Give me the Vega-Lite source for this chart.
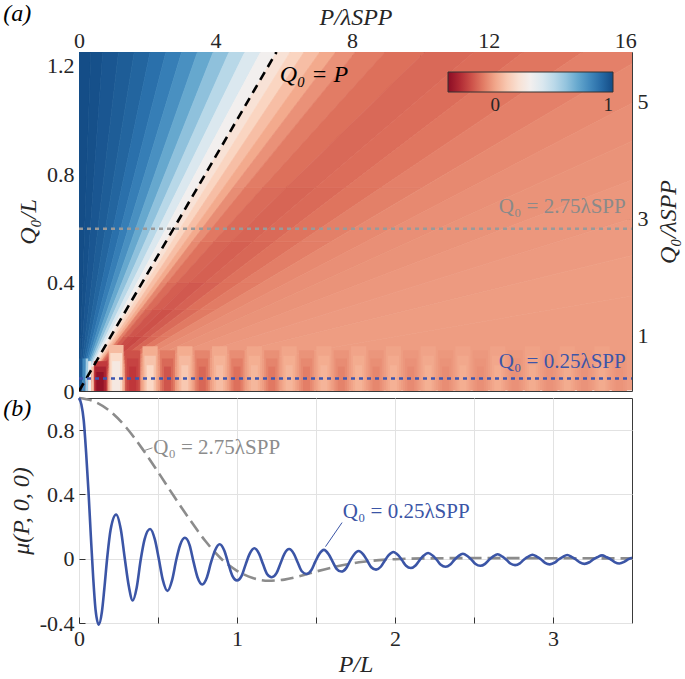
{
"$schema":"https://vega.github.io/schema/vega-lite/v6.json",
"background":"white",
"padding":{"left":2,"top":1,"right":2,"bottom":2},
"spacing":7,
"bounds":"flush",
"config":{
"view":{"stroke":"#3a3a3a","strokeWidth":1},
"font":"Liberation Serif",
"axis":{"labelFont":"Liberation Serif","labelFontSize":22,"labelColor":"#262626","titleFont":"Liberation Serif","titleFontSize":24,"titleFontWeight":"normal","titleFontStyle":"italic","titleColor":"#262626","tickColor":"#333333","domain":false,"grid":false,"tickSize":-6,"labelPadding":11,"labelFlush":false,"labelOverlap":false}
},
"resolve":{"legend":{"color":"independent"},"scale":{"color":"independent"}},
"vconcat":[
{
"width":553,"height":339,
"resolve":{"scale":{"x":"independent","y":"independent"}},
"layer":[
{"layer":[
{"data":{"values":[
{"id":"b1","q":0,"a":0,"b":0,"v":0.995},{"id":"b1","q":1.25,"a":0,"b":0.075,"v":0.995},
{"id":"b2","q":0,"a":0,"b":0,"v":0.985},{"id":"b2","q":1.25,"a":0.075,"b":0.15,"v":0.985},
{"id":"b3","q":0,"a":0,"b":0,"v":0.965},{"id":"b3","q":1.25,"a":0.15,"b":0.25,"v":0.965},
{"id":"b4","q":0,"a":0,"b":0,"v":0.945},{"id":"b4","q":1.25,"a":0.25,"b":0.35,"v":0.945},
{"id":"b5","q":0,"a":0,"b":0,"v":0.92},{"id":"b5","q":1.25,"a":0.35,"b":0.45,"v":0.92},
{"id":"b6","q":0,"a":0,"b":0,"v":0.885},{"id":"b6","q":1.25,"a":0.45,"b":0.55,"v":0.885},
{"id":"b7","q":0,"a":0,"b":0,"v":0.84},{"id":"b7","q":1.25,"a":0.55,"b":0.65,"v":0.84},
{"id":"b8","q":0,"a":0,"b":0,"v":0.78},{"id":"b8","q":1.25,"a":0.65,"b":0.75,"v":0.78},
{"id":"b9","q":0,"a":0,"b":0,"v":0.70},{"id":"b9","q":1.25,"a":0.75,"b":0.85,"v":0.70},
{"id":"b10","q":0,"a":0,"b":0,"v":0.61},{"id":"b10","q":1.25,"a":0.85,"b":0.95,"v":0.61},
{"id":"b11","q":0,"a":0,"b":0,"v":0.51},{"id":"b11","q":1.25,"a":0.95,"b":1.05,"v":0.51},
{"id":"b12","q":0,"a":0,"b":0,"v":0.40},{"id":"b12","q":1.25,"a":1.05,"b":1.15,"v":0.40},
{"id":"b13","q":0,"a":0,"b":0,"v":0.30},{"id":"b13","q":1.25,"a":1.15,"b":1.25,"v":0.30},
{"id":"b14","q":0,"a":0,"b":0,"v":0.21},{"id":"b14","q":1.25,"a":1.25,"b":1.3375,"v":0.21},
{"id":"b15","q":0,"a":0,"b":0,"v":0.14},{"id":"b15","q":1.25,"a":1.3375,"b":1.425,"v":0.14},
{"id":"b16","q":0,"a":0,"b":0,"v":0.07},{"id":"b16","q":1.25,"a":1.425,"b":1.525,"v":0.07},
{"id":"b17","q":0,"a":0,"b":0,"v":0.01},{"id":"b17","q":1.25,"a":1.525,"b":1.625,"v":0.01},
{"id":"b18A","q":0,"a":0,"b":0,"v":-0.10},{"id":"b18A","q":0.2,"a":0.26,"b":0.28,"v":-0.10},
{"id":"b18B","q":0.2,"a":0.26,"b":0.28,"v":-0.09},{"id":"b18B","q":0.3,"a":0.39,"b":0.42,"v":-0.09},
{"id":"b18C","q":0.3,"a":0.39,"b":0.42,"v":-0.08},{"id":"b18C","q":0.4,"a":0.52,"b":0.56,"v":-0.08},
{"id":"b18D","q":0.4,"a":0.52,"b":0.56,"v":-0.07},{"id":"b18D","q":0.55,"a":0.715,"b":0.77,"v":-0.07},
{"id":"b18E","q":0.55,"a":0.715,"b":0.77,"v":-0.06},{"id":"b18E","q":0.75,"a":0.975,"b":1.05,"v":-0.06},
{"id":"b18F","q":0.75,"a":0.975,"b":1.05,"v":-0.05},{"id":"b18F","q":1.25,"a":1.625,"b":1.75,"v":-0.05},
{"id":"b19A","q":0,"a":0,"b":0,"v":-0.17},{"id":"b19A","q":0.2,"a":0.28,"b":0.31,"v":-0.17},
{"id":"b19B","q":0.2,"a":0.28,"b":0.31,"v":-0.155},{"id":"b19B","q":0.3,"a":0.42,"b":0.465,"v":-0.155},
{"id":"b19C","q":0.3,"a":0.42,"b":0.465,"v":-0.14},{"id":"b19C","q":0.4,"a":0.56,"b":0.62,"v":-0.14},
{"id":"b19D","q":0.4,"a":0.56,"b":0.62,"v":-0.125},{"id":"b19D","q":0.55,"a":0.77,"b":0.8525,"v":-0.125},
{"id":"b19E","q":0.55,"a":0.77,"b":0.8525,"v":-0.11},{"id":"b19E","q":0.75,"a":1.05,"b":1.1625,"v":-0.11},
{"id":"b19F","q":0.75,"a":1.05,"b":1.1625,"v":-0.10},{"id":"b19F","q":1.25,"a":1.75,"b":1.9375,"v":-0.10},
{"id":"b20A","q":0,"a":0,"b":0,"v":-0.21},{"id":"b20A","q":0.2,"a":0.31,"b":0.35,"v":-0.21},
{"id":"b20B","q":0.2,"a":0.31,"b":0.35,"v":-0.19},{"id":"b20B","q":0.3,"a":0.465,"b":0.525,"v":-0.19},
{"id":"b20C","q":0.3,"a":0.465,"b":0.525,"v":-0.17},{"id":"b20C","q":0.4,"a":0.62,"b":0.70,"v":-0.17},
{"id":"b20D","q":0.4,"a":0.62,"b":0.70,"v":-0.155},{"id":"b20D","q":0.55,"a":0.8525,"b":0.9625,"v":-0.155},
{"id":"b20E","q":0.55,"a":0.8525,"b":0.9625,"v":-0.14},{"id":"b20E","q":0.75,"a":1.1625,"b":1.3125,"v":-0.14},
{"id":"b20F","q":0.75,"a":1.1625,"b":1.3125,"v":-0.13},{"id":"b20F","q":1.25,"a":1.9375,"b":2.1875,"v":-0.13},
{"id":"b21A","q":0,"a":0,"b":0,"v":-0.22},{"id":"b21A","q":0.2,"a":0.35,"b":0.4,"v":-0.22},
{"id":"b21B","q":0.2,"a":0.35,"b":0.4,"v":-0.20},{"id":"b21B","q":0.3,"a":0.525,"b":0.6,"v":-0.20},
{"id":"b21C","q":0.3,"a":0.525,"b":0.6,"v":-0.18},{"id":"b21C","q":0.4,"a":0.7,"b":0.8,"v":-0.18},
{"id":"b21D","q":0.4,"a":0.7,"b":0.8,"v":-0.165},{"id":"b21D","q":0.55,"a":0.9625,"b":1.1,"v":-0.165},
{"id":"b21E","q":0.55,"a":0.9625,"b":1.1,"v":-0.155},{"id":"b21E","q":0.75,"a":1.3125,"b":1.5,"v":-0.155},
{"id":"b21F","q":0.75,"a":1.3125,"b":1.5,"v":-0.145},{"id":"b21F","q":1.25,"a":2.1875,"b":2.5,"v":-0.145},
{"id":"b22A","q":0,"a":0,"b":0,"v":-0.19},{"id":"b22A","q":0.2,"a":0.4,"b":0.45,"v":-0.19},
{"id":"b22B","q":0.2,"a":0.4,"b":0.45,"v":-0.175},{"id":"b22B","q":0.3,"a":0.6,"b":0.675,"v":-0.175},
{"id":"b22C","q":0.3,"a":0.6,"b":0.675,"v":-0.16},{"id":"b22C","q":0.4,"a":0.8,"b":0.9,"v":-0.16},
{"id":"b22D","q":0.4,"a":0.8,"b":0.9,"v":-0.15},{"id":"b22D","q":0.55,"a":1.1,"b":1.2375,"v":-0.15},
{"id":"b22E","q":0.55,"a":1.1,"b":1.2375,"v":-0.142},{"id":"b22E","q":0.75,"a":1.5,"b":1.6875,"v":-0.142},
{"id":"b22F","q":0.75,"a":1.5,"b":1.6875,"v":-0.135},{"id":"b22F","q":1.25,"a":2.5,"b":2.8125,"v":-0.135},
{"id":"b23A","q":0,"a":0,"b":0,"v":-0.15},{"id":"b23A","q":0.2,"a":0.45,"b":0.51,"v":-0.15},
{"id":"b23B","q":0.2,"a":0.45,"b":0.51,"v":-0.14},{"id":"b23B","q":0.3,"a":0.675,"b":0.765,"v":-0.14},
{"id":"b23C","q":0.3,"a":0.675,"b":0.765,"v":-0.13},{"id":"b23C","q":0.4,"a":0.9,"b":1.02,"v":-0.13},
{"id":"b23D","q":0.4,"a":0.9,"b":1.02,"v":-0.125},{"id":"b23D","q":0.55,"a":1.2375,"b":1.4025,"v":-0.125},
{"id":"b23E","q":0.55,"a":1.2375,"b":1.4025,"v":-0.12},{"id":"b23E","q":0.75,"a":1.6875,"b":1.9125,"v":-0.12},
{"id":"b23F","q":0.75,"a":1.6875,"b":1.9125,"v":-0.115},{"id":"b23F","q":1.25,"a":2.8125,"b":3.1875,"v":-0.115},
{"id":"b24A","q":0,"a":0,"b":0,"v":-0.11},{"id":"b24A","q":0.2,"a":0.51,"b":0.58,"v":-0.11},
{"id":"b24B","q":0.2,"a":0.51,"b":0.58,"v":-0.105},{"id":"b24B","q":0.3,"a":0.765,"b":0.87,"v":-0.105},
{"id":"b24C","q":0.3,"a":0.765,"b":0.87,"v":-0.10},{"id":"b24C","q":0.4,"a":1.02,"b":1.16,"v":-0.10},
{"id":"b24D","q":0.4,"a":1.02,"b":1.16,"v":-0.095},{"id":"b24D","q":0.55,"a":1.4025,"b":1.595,"v":-0.095},
{"id":"b24E","q":0.55,"a":1.4025,"b":1.595,"v":-0.092},{"id":"b24E","q":0.75,"a":1.9125,"b":2.175,"v":-0.092},
{"id":"b24F","q":0.75,"a":1.9125,"b":2.175,"v":-0.09},{"id":"b24F","q":1.25,"a":3.1875,"b":3.625,"v":-0.09},
{"id":"b25","q":0,"a":0,"b":0,"v":-0.07},{"id":"b25","q":1.25,"a":3.625,"b":4.125,"v":-0.07},
{"id":"b26","q":0,"a":0,"b":0,"v":-0.055},{"id":"b26","q":1.25,"a":4.125,"b":4.75,"v":-0.055},
{"id":"b27","q":0,"a":0,"b":0,"v":-0.045},{"id":"b27","q":1.25,"a":4.75,"b":5.625,"v":-0.045},
{"id":"b28","q":0,"a":0,"b":0,"v":-0.035},{"id":"b28","q":1.25,"a":5.625,"b":6.875,"v":-0.035},
{"id":"b29","q":0,"a":0,"b":0,"v":-0.028},{"id":"b29","q":1.25,"a":6.875,"b":8.75,"v":-0.028},
{"id":"b30","q":0,"a":0,"b":0,"v":-0.022},{"id":"b30","q":1.25,"a":8.75,"b":12.5,"v":-0.022},
{"id":"b31","q":0,"a":0,"b":0,"v":-0.02},{"id":"b31","q":1.25,"a":12.5,"b":1250,"v":-0.02}
]},
"mark":{"type":"area","orient":"horizontal","clip":true,"strokeWidth":0.7},
"encoding":{
"y":{"field":"q","type":"quantitative","scale":{"domain":[0,1.25],"nice":false,"zero":false},"axis":{"orient":"left","title":"Q₀/L","values":[0,0.2,0.4,0.6,0.8,1,1.2],"labelExpr":"datum.value == 0 ? '0' : datum.value == 0.4 ? '0.4' : datum.value == 0.8 ? '0.8' : datum.value == 1.2 ? '1.2' : ''","titlePadding":6}},
"x":{"field":"a","type":"quantitative","scale":{"domain":[0,3.5],"nice":false},"axis":{"orient":"bottom","values":[0.5,1,1.5,2,2.5,3],"labels":false,"title":null,"labelPadding":0}},
"x2":{"field":"b"},
"detail":{"field":"id","type":"nominal"},
"color":{"field":"v","type":"quantitative","scale":{"scheme":"redblue","domain":[-0.4,1]},"legend":{"orient":"none","legendX":369,"legendY":20,"direction":"horizontal","gradientLength":165,"gradientThickness":20,"values":[0,1],"labelExpr":"datum.value == 0 ? '0' : '1'","title":null,"labelFont":"Liberation Serif","labelFontSize":19,"labelColor":"#262626","gradientStrokeColor":"#333333","gradientStrokeWidth":1,"labelOffset":4}},
"stroke":{"field":"v","type":"quantitative","scale":{"scheme":"redblue","domain":[-0.4,1]},"legend":null}
}},
{"data":{"values":[
{"p1":0,"p2":0.022,"q1":0,"q2":0.12,"v":0.95},
{"p1":0.022,"p2":0.042,"q1":0,"q2":0.12,"v":0.8},
{"p1":0.042,"p2":0.058,"q1":0,"q2":0.12,"v":0.57},
{"p1":0.058,"p2":0.078,"q1":0,"q2":0.11,"v":0.32},
{"p1":0.078,"p2":0.094,"q1":0,"q2":0.09,"v":0.08},
{"p1":0.094,"p2":0.18,"q1":0,"q2":0.11,"v":-0.25},{"p1":0.102,"p2":0.17,"q1":0,"q2":0.09,"v":-0.32},{"p1":0.11,"p2":0.156,"q1":0,"q2":0.07,"v":-0.38},
{"p1":0.188,"p2":0.282,"q1":0,"q2":0.17,"v":0.06},{"p1":0.198,"p2":0.272,"q1":0,"q2":0.14,"v":0.16},{"p1":0.21,"p2":0.26,"q1":0,"q2":0.11,"v":0.25},
{"p1":0.292,"p2":0.388,"q1":0,"q2":0.15,"v":-0.2},{"p1":0.304,"p2":0.376,"q1":0,"q2":0.12,"v":-0.23},{"p1":0.318,"p2":0.362,"q1":0,"q2":0.09,"v":-0.26},
{"p1":0.402,"p2":0.498,"q1":0,"q2":0.165,"v":0.02},{"p1":0.414,"p2":0.486,"q1":0,"q2":0.13,"v":0.085},{"p1":0.428,"p2":0.472,"q1":0,"q2":0.095,"v":0.15},
{"p1":0.512,"p2":0.608,"q1":0,"q2":0.15,"v":-0.1},{"p1":0.524,"p2":0.596,"q1":0,"q2":0.12,"v":-0.145},{"p1":0.538,"p2":0.582,"q1":0,"q2":0.09,"v":-0.19},
{"p1":0.622,"p2":0.718,"q1":0,"q2":0.165,"v":0.018},{"p1":0.634,"p2":0.706,"q1":0,"q2":0.13,"v":0.055},{"p1":0.648,"p2":0.692,"q1":0,"q2":0.095,"v":0.1},
{"p1":0.732,"p2":0.828,"q1":0,"q2":0.15,"v":-0.08},{"p1":0.744,"p2":0.816,"q1":0,"q2":0.12,"v":-0.115},{"p1":0.758,"p2":0.802,"q1":0,"q2":0.09,"v":-0.15},
{"p1":0.842,"p2":0.938,"q1":0,"q2":0.165,"v":0.008},{"p1":0.854,"p2":0.926,"q1":0,"q2":0.13,"v":0.035},{"p1":0.868,"p2":0.912,"q1":0,"q2":0.095,"v":0.068},
{"p1":0.952,"p2":1.048,"q1":0,"q2":0.15,"v":-0.06},{"p1":0.964,"p2":1.036,"q1":0,"q2":0.12,"v":-0.095},{"p1":0.978,"p2":1.022,"q1":0,"q2":0.09,"v":-0.129},
{"p1":1.062,"p2":1.158,"q1":0,"q2":0.165,"v":0.001},{"p1":1.074,"p2":1.146,"q1":0,"q2":0.13,"v":0.023},{"p1":1.088,"p2":1.132,"q1":0,"q2":0.095,"v":0.048},
{"p1":1.172,"p2":1.268,"q1":0,"q2":0.15,"v":-0.053},{"p1":1.184,"p2":1.256,"q1":0,"q2":0.12,"v":-0.082},{"p1":1.198,"p2":1.242,"q1":0,"q2":0.09,"v":-0.11},
{"p1":1.282,"p2":1.378,"q1":0,"q2":0.165,"v":0.0},{"p1":1.294,"p2":1.366,"q1":0,"q2":0.13,"v":0.02},{"p1":1.308,"p2":1.352,"q1":0,"q2":0.095,"v":0.044},
{"p1":1.392,"p2":1.488,"q1":0,"q2":0.15,"v":-0.046},{"p1":1.404,"p2":1.476,"q1":0,"q2":0.12,"v":-0.07},{"p1":1.418,"p2":1.462,"q1":0,"q2":0.09,"v":-0.095},
{"p1":1.502,"p2":1.598,"q1":0,"q2":0.165,"v":-0.001},{"p1":1.514,"p2":1.586,"q1":0,"q2":0.13,"v":0.018},{"p1":1.528,"p2":1.572,"q1":0,"q2":0.095,"v":0.04},
{"p1":1.612,"p2":1.708,"q1":0,"q2":0.15,"v":-0.042},{"p1":1.624,"p2":1.696,"q1":0,"q2":0.12,"v":-0.062},{"p1":1.638,"p2":1.682,"q1":0,"q2":0.09,"v":-0.085},
{"p1":1.722,"p2":1.818,"q1":0,"q2":0.165,"v":-0.003},{"p1":1.734,"p2":1.806,"q1":0,"q2":0.13,"v":0.014},{"p1":1.748,"p2":1.792,"q1":0,"q2":0.095,"v":0.034},
{"p1":1.832,"p2":1.928,"q1":0,"q2":0.15,"v":-0.039},{"p1":1.844,"p2":1.916,"q1":0,"q2":0.12,"v":-0.056},{"p1":1.858,"p2":1.902,"q1":0,"q2":0.09,"v":-0.075},
{"p1":1.942,"p2":2.038,"q1":0,"q2":0.165,"v":-0.005},{"p1":1.954,"p2":2.026,"q1":0,"q2":0.13,"v":0.011},{"p1":1.968,"p2":2.012,"q1":0,"q2":0.095,"v":0.03},
{"p1":2.052,"p2":2.148,"q1":0,"q2":0.15,"v":-0.036},{"p1":2.064,"p2":2.136,"q1":0,"q2":0.12,"v":-0.05},{"p1":2.078,"p2":2.122,"q1":0,"q2":0.09,"v":-0.066},
{"p1":2.162,"p2":2.258,"q1":0,"q2":0.165,"v":-0.006},{"p1":2.174,"p2":2.246,"q1":0,"q2":0.13,"v":0.008},{"p1":2.188,"p2":2.232,"q1":0,"q2":0.095,"v":0.025},
{"p1":2.272,"p2":2.368,"q1":0,"q2":0.15,"v":-0.034},{"p1":2.284,"p2":2.356,"q1":0,"q2":0.12,"v":-0.046},{"p1":2.298,"p2":2.342,"q1":0,"q2":0.09,"v":-0.06},
{"p1":2.382,"p2":2.478,"q1":0,"q2":0.165,"v":-0.008},{"p1":2.394,"p2":2.466,"q1":0,"q2":0.13,"v":0.005},{"p1":2.408,"p2":2.452,"q1":0,"q2":0.095,"v":0.02},
{"p1":2.492,"p2":2.588,"q1":0,"q2":0.15,"v":-0.032},{"p1":2.504,"p2":2.576,"q1":0,"q2":0.12,"v":-0.043},{"p1":2.518,"p2":2.562,"q1":0,"q2":0.09,"v":-0.055},
{"p1":2.602,"p2":2.698,"q1":0,"q2":0.165,"v":-0.008},{"p1":2.614,"p2":2.686,"q1":0,"q2":0.13,"v":0.004},{"p1":2.628,"p2":2.672,"q1":0,"q2":0.095,"v":0.018},
{"p1":2.712,"p2":2.808,"q1":0,"q2":0.15,"v":-0.031},{"p1":2.724,"p2":2.796,"q1":0,"q2":0.12,"v":-0.04},{"p1":2.738,"p2":2.782,"q1":0,"q2":0.09,"v":-0.05},
{"p1":2.822,"p2":2.918,"q1":0,"q2":0.165,"v":-0.009},{"p1":2.834,"p2":2.906,"q1":0,"q2":0.13,"v":0.002},{"p1":2.848,"p2":2.892,"q1":0,"q2":0.095,"v":0.015},
{"p1":2.932,"p2":3.028,"q1":0,"q2":0.15,"v":-0.03},{"p1":2.944,"p2":3.016,"q1":0,"q2":0.12,"v":-0.038},{"p1":2.958,"p2":3.002,"q1":0,"q2":0.09,"v":-0.047},
{"p1":3.042,"p2":3.138,"q1":0,"q2":0.165,"v":-0.01},{"p1":3.054,"p2":3.126,"q1":0,"q2":0.13,"v":0.001},{"p1":3.068,"p2":3.112,"q1":0,"q2":0.095,"v":0.014},
{"p1":3.152,"p2":3.248,"q1":0,"q2":0.15,"v":-0.029},{"p1":3.164,"p2":3.236,"q1":0,"q2":0.12,"v":-0.036},{"p1":3.178,"p2":3.222,"q1":0,"q2":0.09,"v":-0.044},
{"p1":3.262,"p2":3.358,"q1":0,"q2":0.165,"v":-0.01},{"p1":3.274,"p2":3.346,"q1":0,"q2":0.13,"v":0.0},{"p1":3.288,"p2":3.332,"q1":0,"q2":0.095,"v":0.012},
{"p1":3.372,"p2":3.468,"q1":0,"q2":0.15,"v":-0.028},{"p1":3.384,"p2":3.456,"q1":0,"q2":0.12,"v":-0.035},{"p1":3.398,"p2":3.442,"q1":0,"q2":0.09,"v":-0.042}
]},
"mark":{"type":"rect","clip":true},
"encoding":{
"x":{"field":"p1","type":"quantitative"},"x2":{"field":"p2"},
"y":{"field":"q1","type":"quantitative"},"y2":{"field":"q2"},
"color":{"field":"v","type":"quantitative"}
}},
{"data":{"values":[{"p":0,"q":0},{"p":1.25,"q":1.25}]},
"mark":{"type":"line","color":"#000000","strokeWidth":2.6,"strokeDash":[9,6],"clip":true},
"encoding":{"x":{"field":"p","type":"quantitative"},"y":{"field":"q","type":"quantitative"}}},
{"data":{"values":[{"p":0,"q":0.598},{"p":3.5,"q":0.598}]},
"mark":{"type":"line","color":"#9a9a9a","strokeWidth":2.6,"strokeDash":[4,4]},
"encoding":{"x":{"field":"p","type":"quantitative"},"y":{"field":"q","type":"quantitative"}}},
{"data":{"values":[{"p":0,"q":0.046},{"p":3.5,"q":0.046}]},
"mark":{"type":"line","color":"#3d55b0","strokeWidth":2.6,"strokeDash":[4,4]},
"encoding":{"x":{"field":"p","type":"quantitative"},"y":{"field":"q","type":"quantitative"}}},
{"data":{"values":[{"p":1.27,"q":1.165,"t":"Q₀ = P"}]},
"mark":{"type":"text","align":"left","baseline":"middle","fontSize":24,"fontStyle":"italic","color":"#000000","font":"Liberation Serif"},
"encoding":{"x":{"field":"p","type":"quantitative"},"y":{"field":"q","type":"quantitative"},"text":{"field":"t"}}},
{"data":{"values":[{"p":3.46,"q":0.678,"t":"Q₀ = 2.75λSPP"}]},
"mark":{"type":"text","align":"right","baseline":"middle","fontSize":21,"color":"#8a8a8a","font":"Liberation Serif"},
"encoding":{"x":{"field":"p","type":"quantitative"},"y":{"field":"q","type":"quantitative"},"text":{"field":"t"}}},
{"data":{"values":[{"p":3.46,"q":0.107,"t":"Q₀ = 0.25λSPP"}]},
"mark":{"type":"text","align":"right","baseline":"middle","fontSize":21,"color":"#3d55a8","font":"Liberation Serif"},
"encoding":{"x":{"field":"p","type":"quantitative"},"y":{"field":"q","type":"quantitative"},"text":{"field":"t"}}},
{"data":{"values":[{"p":-0.48,"q":1.39,"t":"(a)"}]},
"mark":{"type":"text","align":"left","baseline":"middle","fontSize":24,"fontStyle":"italic","color":"#000000","font":"Liberation Serif"},
"encoding":{"x":{"field":"p","type":"quantitative"},"y":{"field":"q","type":"quantitative"},"text":{"field":"t"}}}
]},
{"data":{"values":[{"pl":0,"ql":1}]},
"mark":{"type":"point","opacity":0},
"encoding":{
"x":{"field":"pl","type":"quantitative","scale":{"domain":[0,16.2],"nice":false},"axis":{"orient":"top","title":"P/λSPP","values":[0,2,4,6,8,10,12,14,16],"labelExpr":"datum.value % 4 == 0 ? format(datum.value, 'd') : ''","titlePadding":0,"labelPadding":6}},
"y":{"field":"ql","type":"quantitative","scale":{"domain":[0.061,5.848],"nice":false,"zero":false},"axis":{"orient":"right","title":"Q₀/λSPP","values":[1,2,3,4,5],"labelExpr":"datum.value % 2 == 1 ? format(datum.value, 'd') : ''","titlePadding":8,"titleAngle":270,"titleBaseline":"top"}}
}}
]
},
{
"width":553,"height":225,
"layer":[
{"data":{"values":[
{"p":0,"m":1.0},{"p":0.1,"m":0.977},{"p":0.2,"m":0.915},{"p":0.3,"m":0.815},{"p":0.4,"m":0.685},{"p":0.5,"m":0.54},{"p":0.6,"m":0.39},{"p":0.7,"m":0.245},{"p":0.8,"m":0.11},{"p":0.9,"m":0.0},{"p":1.0,"m":-0.075},{"p":1.1,"m":-0.12},{"p":1.2,"m":-0.137},{"p":1.3,"m":-0.13},{"p":1.4,"m":-0.108},{"p":1.5,"m":-0.08},{"p":1.6,"m":-0.055},{"p":1.7,"m":-0.034},{"p":1.8,"m":-0.019},{"p":1.9,"m":-0.009},{"p":2.0,"m":-0.003},{"p":2.2,"m":0.002},{"p":2.5,"m":0.004},{"p":3.0,"m":0.003},{"p":3.5,"m":0.002}
]},
"mark":{"type":"line","color":"#8c8c8c","strokeWidth":2.6,"strokeDash":[13,6],"interpolate":"monotone"},
"encoding":{
"x":{"field":"p","type":"quantitative","scale":{"domain":[0,3.5],"nice":false},"axis":{"title":"P/L","values":[0,0.5,1,1.5,2,2.5,3],"labelExpr":"datum.value % 1 == 0 ? format(datum.value, 'd') : ''","grid":true,"gridColor":"#e2e2e2","titlePadding":3}},
"y":{"field":"m","type":"quantitative","scale":{"domain":[-0.4,1],"nice":false,"zero":false},"axis":{"title":"μ(P, 0, 0)","values":[-0.4,-0.2,0,0.2,0.4,0.6,0.8],"labelExpr":"datum.value == 0 ? '0' : datum.value == 0.4 ? '0.4' : datum.value == 0.8 ? '0.8' : datum.value == -0.4 ? '-0.4' : ''","grid":true,"gridColor":"#e2e2e2","titlePadding":6}}
}},
{"data":{"values":[
{"p":0,"m":1.0},{"p":0.015,"m":0.96},{"p":0.03,"m":0.86},{"p":0.045,"m":0.66},{"p":0.06,"m":0.42},{"p":0.075,"m":0.14},{"p":0.09,"m":-0.12},{"p":0.105,"m":-0.32},{"p":0.125,"m":-0.41},{"p":0.145,"m":-0.33},{"p":0.16,"m":-0.19},{"p":0.18,"m":0.02},{"p":0.2,"m":0.18},{"p":0.235,"m":0.275},{"p":0.265,"m":0.18},{"p":0.29,"m":0.0},{"p":0.315,"m":-0.17},{"p":0.34,"m":-0.26},{"p":0.365,"m":-0.18},{"p":0.39,"m":-0.01},{"p":0.415,"m":0.12},{"p":0.45,"m":0.185},{"p":0.48,"m":0.12},{"p":0.505,"m":0.0},{"p":0.53,"m":-0.13},{"p":0.56,"m":-0.2},{"p":0.59,"m":-0.13},{"p":0.615,"m":-0.01},{"p":0.64,"m":0.085},{"p":0.67,"m":0.13},{"p":0.7,"m":0.085},{"p":0.725,"m":-0.02},{"p":0.75,"m":-0.115},{"p":0.78,"m":-0.16},{"p":0.81,"m":-0.115},{"p":0.835,"m":-0.025},{"p":0.86,"m":0.05},{"p":0.89,"m":0.09},{"p":0.92,"m":0.05},{"p":0.945,"m":-0.03},{"p":0.97,"m":-0.105},{"p":1.0,"m":-0.135},{"p":1.03,"m":-0.105},{"p":1.055,"m":-0.035},{"p":1.08,"m":0.03},{"p":1.11,"m":0.065},{"p":1.14,"m":0.03},{"p":1.165,"m":-0.035},{"p":1.19,"m":-0.095},{"p":1.22,"m":-0.115},{"p":1.25,"m":-0.09},{"p":1.275,"m":-0.03},{"p":1.3,"m":0.03},{"p":1.33,"m":0.06},{"p":1.36,"m":0.03},{"p":1.385,"m":-0.025},{"p":1.41,"m":-0.078},{"p":1.44,"m":-0.095},{"p":1.47,"m":-0.072},{"p":1.495,"m":-0.02},{"p":1.52,"m":0.028},{"p":1.55,"m":0.055},{"p":1.58,"m":0.028},{"p":1.605,"m":-0.018},{"p":1.63,"m":-0.063},{"p":1.66,"m":-0.08},{"p":1.69,"m":-0.06},{"p":1.715,"m":-0.015},{"p":1.74,"m":0.025},{"p":1.77,"m":0.048},{"p":1.8,"m":0.025},{"p":1.825,"m":-0.013},{"p":1.85,"m":-0.053},{"p":1.88,"m":-0.068},{"p":1.91,"m":-0.05},{"p":1.935,"m":-0.012},{"p":1.96,"m":0.022},{"p":1.99,"m":0.042},{"p":2.02,"m":0.022},{"p":2.045,"m":-0.01},{"p":2.07,"m":-0.044},{"p":2.1,"m":-0.058},{"p":2.13,"m":-0.042},{"p":2.155,"m":-0.01},{"p":2.18,"m":0.018},{"p":2.21,"m":0.036},{"p":2.24,"m":0.018},{"p":2.265,"m":-0.008},{"p":2.29,"m":-0.038},{"p":2.32,"m":-0.05},{"p":2.35,"m":-0.036},{"p":2.375,"m":-0.008},{"p":2.4,"m":0.015},{"p":2.43,"m":0.031},{"p":2.46,"m":0.015},{"p":2.485,"m":-0.007},{"p":2.51,"m":-0.033},{"p":2.54,"m":-0.044},{"p":2.57,"m":-0.032},{"p":2.595,"m":-0.007},{"p":2.62,"m":0.013},{"p":2.65,"m":0.028},{"p":2.68,"m":0.013},{"p":2.705,"m":-0.006},{"p":2.73,"m":-0.03},{"p":2.76,"m":-0.04},{"p":2.79,"m":-0.029},{"p":2.815,"m":-0.006},{"p":2.84,"m":0.011},{"p":2.87,"m":0.025},{"p":2.9,"m":0.011},{"p":2.925,"m":-0.005},{"p":2.95,"m":-0.026},{"p":2.98,"m":-0.035},{"p":3.01,"m":-0.025},{"p":3.035,"m":-0.005},{"p":3.06,"m":0.01},{"p":3.09,"m":0.023},{"p":3.12,"m":0.01},{"p":3.145,"m":-0.005},{"p":3.17,"m":-0.023},{"p":3.2,"m":-0.032},{"p":3.23,"m":-0.022},{"p":3.255,"m":-0.004},{"p":3.28,"m":0.009},{"p":3.31,"m":0.021},{"p":3.34,"m":0.009},{"p":3.365,"m":-0.004},{"p":3.39,"m":-0.021},{"p":3.42,"m":-0.03},{"p":3.45,"m":-0.02},{"p":3.475,"m":-0.004},{"p":3.5,"m":0.006}
]},
"mark":{"type":"line","color":"#3b55a6","strokeWidth":2.6,"interpolate":"monotone"},
"encoding":{"x":{"field":"p","type":"quantitative"},"y":{"field":"m","type":"quantitative"}}},
{"data":{"values":[{"p":0.41,"m":0.672},{"p":0.465,"m":0.69}]},
"mark":{"type":"line","color":"#8c8c8c","strokeWidth":1},
"encoding":{"x":{"field":"p","type":"quantitative"},"y":{"field":"m","type":"quantitative"}}},
{"data":{"values":[{"p":1.56,"m":0.075},{"p":1.665,"m":0.225}]},
"mark":{"type":"line","color":"#3b55a6","strokeWidth":1},
"encoding":{"x":{"field":"p","type":"quantitative"},"y":{"field":"m","type":"quantitative"}}},
{"data":{"values":[{"p":0.47,"m":0.69,"t":"Q₀ = 2.75λSPP"}]},
"mark":{"type":"text","align":"left","baseline":"middle","fontSize":21,"color":"#8c8c8c","font":"Liberation Serif"},
"encoding":{"x":{"field":"p","type":"quantitative"},"y":{"field":"m","type":"quantitative"},"text":{"field":"t"}}},
{"data":{"values":[{"p":1.67,"m":0.29,"t":"Q₀ = 0.25λSPP"}]},
"mark":{"type":"text","align":"left","baseline":"middle","fontSize":21,"color":"#3b55a6","font":"Liberation Serif"},
"encoding":{"x":{"field":"p","type":"quantitative"},"y":{"field":"m","type":"quantitative"},"text":{"field":"t"}}},
{"data":{"values":[{"p":-0.48,"m":0.93,"t":"(b)"}]},
"mark":{"type":"text","align":"left","baseline":"middle","fontSize":24,"fontStyle":"italic","color":"#000000","font":"Liberation Serif"},
"encoding":{"x":{"field":"p","type":"quantitative"},"y":{"field":"m","type":"quantitative"},"text":{"field":"t"}}}
]
}
]
}
